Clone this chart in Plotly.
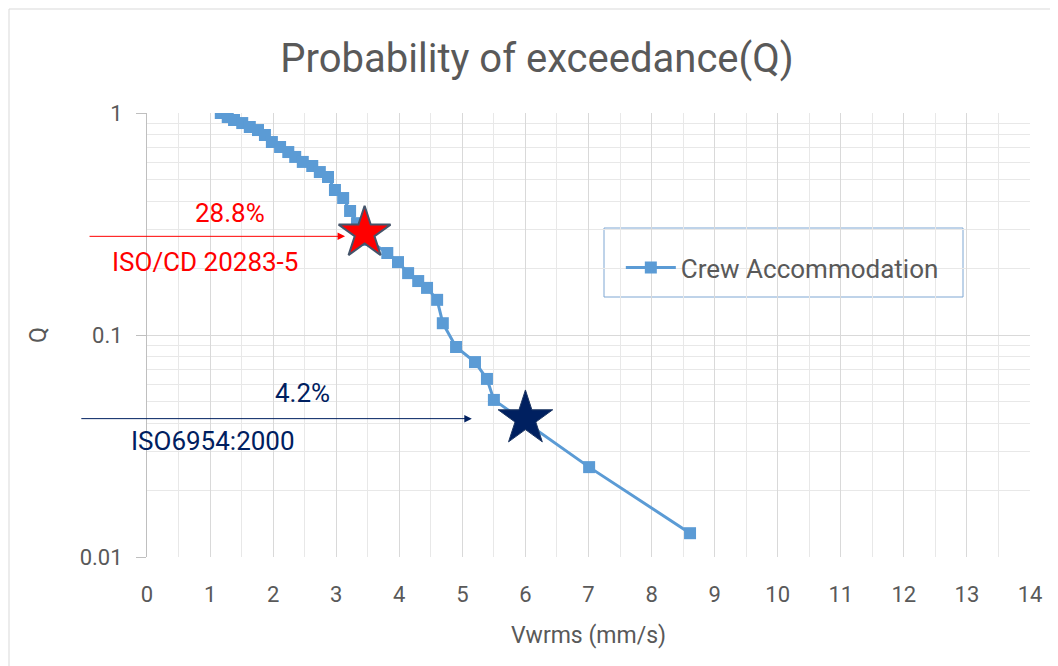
import math
import plotly.graph_objects as go

# Data
vwrms = [1.17, 1.28, 1.38, 1.51, 1.63, 1.76, 1.87, 1.98, 2.11, 2.24, 2.35, 2.47,
         2.62, 2.74, 2.87, 2.98, 3.11, 3.22, 3.33, 3.50, 3.81, 3.98, 4.14, 4.30,
         4.44, 4.60, 4.69, 4.90, 5.20, 5.39, 5.50, 7.01, 8.61]
q = [1.0, 0.959, 0.930, 0.901, 0.865, 0.838, 0.796, 0.740, 0.703, 0.667, 0.634, 0.602,
     0.577, 0.542, 0.515, 0.450, 0.414, 0.362, 0.319, 0.268, 0.234, 0.213, 0.190, 0.175,
     0.163, 0.144, 0.113, 0.0883, 0.0755, 0.0634, 0.0510, 0.0254, 0.0128]

series_name = "Crew Accommodation"
iso_cd_x, iso_cd_q = [3.45], [0.288]
iso6954_x, iso6954_q = [6.0], [0.042]
iso_cd_label, iso_cd_pct = "ISO/CD 20283-5", "28.8%"
iso6954_label, iso6954_pct = "ISO6954:2000", "4.2%"

FONT = "Liberation Sans Narrow, Roboto, sans-serif"
GRAY = "#595959"
RED = "#FF0000"
NAVY = "#002060"
BLUE = "#5B9BD5"

lg = math.log10

# page offset (body margin) compensation
L, T, R, B = 139, 105, 36, 117
PW = 1058 - L - R
PH = 666 - T - B

fig = go.Figure()
fig.add_trace(go.Scatter(
    x=vwrms, y=q, mode="lines+markers", name=series_name,
    line=dict(color=BLUE, width=3),
    marker=dict(symbol="square", size=12, color=BLUE),
))
fig.add_trace(go.Scatter(
    x=iso_cd_x, y=iso_cd_q, mode="markers", showlegend=False,
    marker=dict(symbol="star", size=39, color=RED, line=dict(color="#44546A", width=2)),
))
fig.add_trace(go.Scatter(
    x=iso6954_x, y=iso6954_q, mode="markers", showlegend=False,
    marker=dict(symbol="star", size=41, color=NAVY, line=dict(color="#1F3864", width=1)),
))

ann = []
# arrows (annotation y on a log axis is given as log10)
ann.append(dict(x=3.14, y=lg(iso_cd_q[0]) - 0.015, xref="x", yref="y", ax=-257, ay=0,
                showarrow=True, arrowhead=2, arrowsize=1.5, arrowwidth=1,
                arrowcolor=RED, text=""))
ann.append(dict(x=5.15, y=lg(iso6954_q[0]), xref="x", yref="y", ax=-392, ay=0,
                showarrow=True, arrowhead=2, arrowsize=1.5, arrowwidth=1,
                arrowcolor=NAVY, text=""))
ann.append(dict(x=1.32, y=lg(0.355), xref="x", yref="y", text=iso_cd_pct, showarrow=False,
                font=dict(family=FONT, size=26, color=RED)))
ann.append(dict(x=0.92, y=lg(0.213), xref="x", yref="y", text=iso_cd_label, showarrow=False,
                font=dict(family=FONT, size=26, color=RED)))
ann.append(dict(x=2.47, y=lg(0.0548), xref="x", yref="y", text=iso6954_pct, showarrow=False,
                font=dict(family=FONT, size=26, color=NAVY)))
ann.append(dict(x=1.05, y=lg(0.0333), xref="x", yref="y", text=iso6954_label, showarrow=False,
                font=dict(family=FONT, size=26, color=NAVY)))

fig.update_layout(
    width=1058, height=666,
    margin=dict(l=L, r=R, t=T, b=B, autoexpand=False),
    paper_bgcolor="white", plot_bgcolor="white",
    title=dict(text="Probability of exceedance(Q)", x=(537 - 8 - L) / PW, xref="paper",
               xanchor="center", y=1 - 50 / 666, yanchor="middle",
               font=dict(family=FONT, size=40, color=GRAY)),
    font=dict(family=FONT, color=GRAY),
    annotations=ann,
    legend=dict(x=(612 - 8 - L) / PW + 0.01, y=(549 - 228 - 8) / PH, xanchor="left", yanchor="top",
                bgcolor="rgba(0,0,0,0)", borderwidth=0,
                font=dict(family=FONT, size=26, color=GRAY),
                itemwidth=50, tracegroupgap=0),
    shapes=[
        dict(type="rect", xref="paper", yref="paper",
             x0=(1 - L) / PW, x1=(1062 - L) / PW, y0=-(666 - 549 + 10) / PH, y1=(549 - 1) / PH,
             line=dict(color="#D9D9D9", width=1), layer="below"),
        # legend frame
        dict(type="rect", xref="paper", yref="paper",
             x0=(604 - 8 - L) / PW, x1=(963 - 8 - L) / PW,
             y0=(549 - 297 + 8) / PH, y1=(549 - 228 + 8) / PH,
             line=dict(color="#7FA7D3", width=1), fillcolor="white", layer="below"),
    ],
)
fig.update_xaxes(
    range=[0, 14], dtick=1, tick0=0, automargin=False,
    showgrid=True, gridcolor="#D9D9D9", gridwidth=1,
    minor=dict(dtick=0.5, showgrid=True, gridcolor="#E8E8E8"),
    zeroline=False, showline=False, ticks="",
    ticklabelstandoff=22,
    tickfont=dict(family=FONT, size=22, color=GRAY),
    title=dict(text="Vwrms (mm/s)", font=dict(family=FONT, size=23, color=GRAY), standoff=20),
)
fig.update_yaxes(
    type="log", range=[-2, 0], dtick=1, automargin=False,
    tickvals=[0.01, 0.1, 1], ticktext=["0.01", "0.1", "1"],
    showgrid=True, gridcolor="#D9D9D9", gridwidth=1,
    minor=dict(dtick="D1", showgrid=True, gridcolor="#E8E8E8"),
    showline=True, linecolor="#BFBFBF", ticks="outside", ticklen=10, tickcolor="#BFBFBF",
    ticklabelstandoff=9,
    tickfont=dict(family=FONT, size=22, color=GRAY),
    title=dict(text="Q", font=dict(family=FONT, size=23, color=GRAY), standoff=26),
)

fig.write_html("out.html")
